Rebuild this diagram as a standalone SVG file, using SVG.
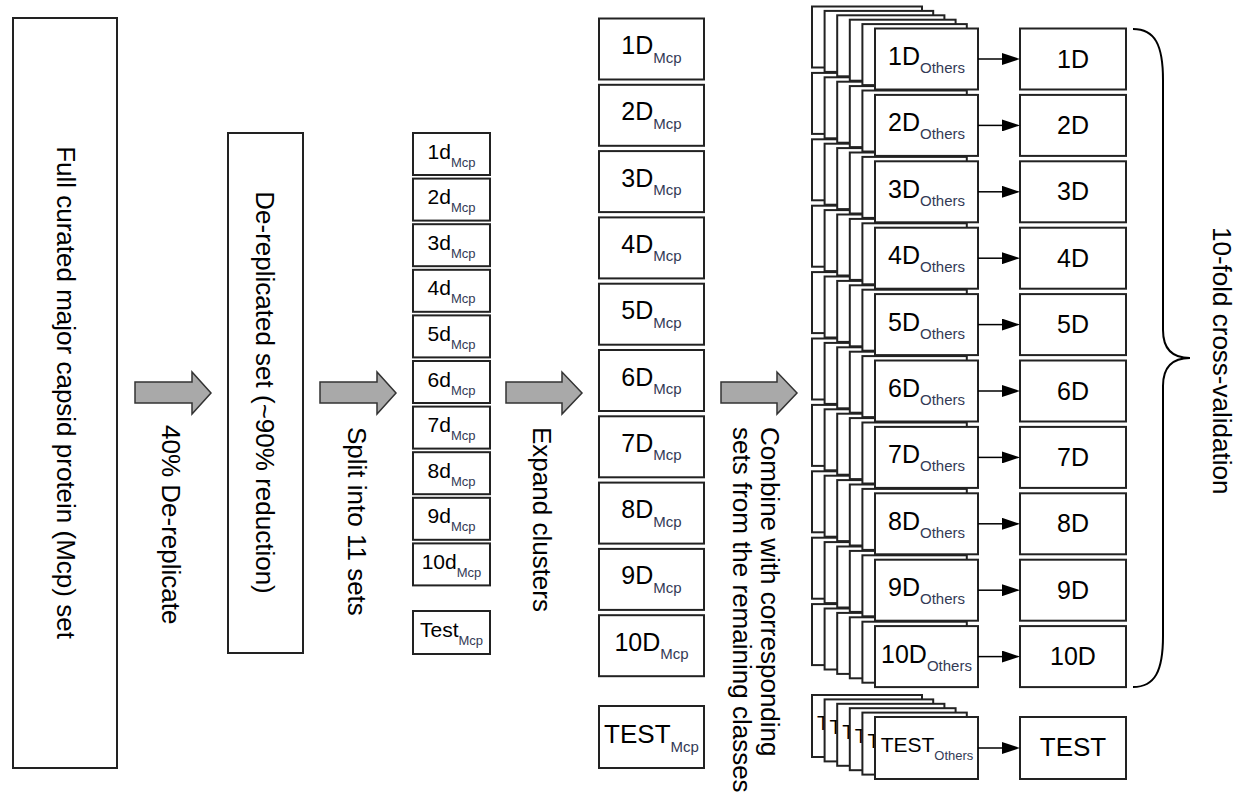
<svg xmlns="http://www.w3.org/2000/svg" width="1244" height="798" viewBox="0 0 1244 798">
<style>
.box{fill:#fff;stroke:#222;stroke-width:2}
.t{font-family:"Liberation Sans",Arial,sans-serif;fill:#000}
.sub{fill:#333a55}
.blk{fill:#a9a9a9;stroke:#333;stroke-width:1.5}
.ln{stroke:#000;stroke-width:1.5;fill:none}
</style>
<defs>
<marker id="ah" markerWidth="18" markerHeight="12" refX="0" refY="6" orient="auto" markerUnits="userSpaceOnUse"><path d="M0,0 L18,6 L0,12 z" fill="#000"/></marker>
</defs>
<rect width="1244" height="798" fill="#fff"/>

<g id="full-set">
<rect class="box" x="13" y="18" width="104" height="750"/>
<text class="t" font-size="26" text-anchor="middle" transform="translate(57,392.5) rotate(90)">Full curated major capsid protein (Mcp) set</text>
</g>

<g id="derep-set">
<rect class="box" x="228" y="133" width="75" height="520"/>
<text class="t" font-size="26" text-anchor="middle" transform="translate(256,392.5) rotate(90)">De-replicated set (~90% reduction)</text>
</g>

<g id="small-sets">
<g id="d1"><rect class="box" x="413" y="133" width="77" height="42"/><text class="t" x="451.5" y="158.5" font-size="21" text-anchor="middle">1d<tspan class="sub" font-size="13" dy="8">Mcp</tspan></text></g>
<g id="d2"><rect class="box" x="413" y="178.6" width="77" height="42"/><text class="t" x="451.5" y="204.1" font-size="21" text-anchor="middle">2d<tspan class="sub" font-size="13" dy="8">Mcp</tspan></text></g>
<g id="d3"><rect class="box" x="413" y="224.2" width="77" height="42"/><text class="t" x="451.5" y="249.7" font-size="21" text-anchor="middle">3d<tspan class="sub" font-size="13" dy="8">Mcp</tspan></text></g>
<g id="d4"><rect class="box" x="413" y="269.8" width="77" height="42"/><text class="t" x="451.5" y="295.3" font-size="21" text-anchor="middle">4d<tspan class="sub" font-size="13" dy="8">Mcp</tspan></text></g>
<g id="d5"><rect class="box" x="413" y="315.4" width="77" height="42"/><text class="t" x="451.5" y="340.9" font-size="21" text-anchor="middle">5d<tspan class="sub" font-size="13" dy="8">Mcp</tspan></text></g>
<g id="d6"><rect class="box" x="413" y="361" width="77" height="42"/><text class="t" x="451.5" y="386.5" font-size="21" text-anchor="middle">6d<tspan class="sub" font-size="13" dy="8">Mcp</tspan></text></g>
<g id="d7"><rect class="box" x="413" y="406.6" width="77" height="42"/><text class="t" x="451.5" y="432.1" font-size="21" text-anchor="middle">7d<tspan class="sub" font-size="13" dy="8">Mcp</tspan></text></g>
<g id="d8"><rect class="box" x="413" y="452.2" width="77" height="42"/><text class="t" x="451.5" y="477.7" font-size="21" text-anchor="middle">8d<tspan class="sub" font-size="13" dy="8">Mcp</tspan></text></g>
<g id="d9"><rect class="box" x="413" y="497.8" width="77" height="42"/><text class="t" x="451.5" y="523.3" font-size="21" text-anchor="middle">9d<tspan class="sub" font-size="13" dy="8">Mcp</tspan></text></g>
<g id="d10"><rect class="box" x="413" y="543.4" width="77" height="42"/><text class="t" x="451.5" y="568.9" font-size="21" text-anchor="middle">10d<tspan class="sub" font-size="13" dy="8">Mcp</tspan></text></g>
<g id="dtest"><rect class="box" x="413" y="611" width="77" height="43"/><text class="t" x="451.5" y="636.7" font-size="21" text-anchor="middle">Test<tspan class="sub" font-size="13" dy="8">Mcp</tspan></text></g>
</g>

<g id="expanded-sets">
<g id="D1"><rect class="box" x="599" y="18.5" width="105" height="61"/><text class="t" x="651.5" y="54" font-size="25" text-anchor="middle">1D<tspan class="sub" font-size="15" dy="8.5">Mcp</tspan></text></g>
<g id="D2"><rect class="box" x="599" y="84.8" width="105" height="61"/><text class="t" x="651.5" y="120.3" font-size="25" text-anchor="middle">2D<tspan class="sub" font-size="15" dy="8.5">Mcp</tspan></text></g>
<g id="D3"><rect class="box" x="599" y="151.1" width="105" height="61"/><text class="t" x="651.5" y="186.6" font-size="25" text-anchor="middle">3D<tspan class="sub" font-size="15" dy="8.5">Mcp</tspan></text></g>
<g id="D4"><rect class="box" x="599" y="217.4" width="105" height="61"/><text class="t" x="651.5" y="252.9" font-size="25" text-anchor="middle">4D<tspan class="sub" font-size="15" dy="8.5">Mcp</tspan></text></g>
<g id="D5"><rect class="box" x="599" y="283.7" width="105" height="61"/><text class="t" x="651.5" y="319.2" font-size="25" text-anchor="middle">5D<tspan class="sub" font-size="15" dy="8.5">Mcp</tspan></text></g>
<g id="D6"><rect class="box" x="599" y="350" width="105" height="61"/><text class="t" x="651.5" y="385.5" font-size="25" text-anchor="middle">6D<tspan class="sub" font-size="15" dy="8.5">Mcp</tspan></text></g>
<g id="D7"><rect class="box" x="599" y="416.3" width="105" height="61"/><text class="t" x="651.5" y="451.8" font-size="25" text-anchor="middle">7D<tspan class="sub" font-size="15" dy="8.5">Mcp</tspan></text></g>
<g id="D8"><rect class="box" x="599" y="482.6" width="105" height="61"/><text class="t" x="651.5" y="518.1" font-size="25" text-anchor="middle">8D<tspan class="sub" font-size="15" dy="8.5">Mcp</tspan></text></g>
<g id="D9"><rect class="box" x="599" y="548.9" width="105" height="61"/><text class="t" x="651.5" y="584.4" font-size="25" text-anchor="middle">9D<tspan class="sub" font-size="15" dy="8.5">Mcp</tspan></text></g>
<g id="D10"><rect class="box" x="599" y="615.2" width="105" height="61"/><text class="t" x="651.5" y="650.7" font-size="25" text-anchor="middle">10D<tspan class="sub" font-size="15" dy="8.5">Mcp</tspan></text></g>
<g id="DTEST"><rect class="box" x="599" y="706" width="105" height="62"/><text class="t" x="651.5" y="743" font-size="26" text-anchor="middle">TEST<tspan class="sub" font-size="15" dy="9">Mcp</tspan></text></g>
</g>

<g id="combined-stacks">
<g id="stackTEST">
<rect class="box" x="812" y="695" width="110" height="62"/><text class="t" x="817" y="730" font-size="20">T</text>
<rect class="box" x="824.6" y="699.4" width="108.6" height="62"/><text class="t" x="829.6" y="734.4" font-size="20">T</text>
<rect class="box" x="837.2" y="703.8" width="107.2" height="62"/><text class="t" x="842.2" y="738.8" font-size="20">T</text>
<rect class="box" x="849.8" y="708.2" width="105.8" height="62"/><text class="t" x="854.8" y="743.2" font-size="20">T</text>
<rect class="box" x="862.4" y="712.6" width="104.4" height="62"/><text class="t" x="867.4" y="747.6" font-size="20">T</text>
<rect class="box" x="875" y="717" width="103" height="62"/><text class="t" x="927" y="752" font-size="21" text-anchor="middle">TEST<tspan class="sub" font-size="13" dy="7.5">Others</tspan></text>
</g>
<g id="stack10">
<rect class="box" x="812" y="604.1" width="110" height="61"/><rect class="box" x="824.6" y="608.5" width="108.6" height="61"/><rect class="box" x="837.2" y="612.9" width="107.2" height="61"/><rect class="box" x="849.8" y="617.3" width="105.8" height="61"/><rect class="box" x="862.4" y="621.7" width="104.4" height="61"/>
<rect class="box" x="875" y="626.1" width="103" height="61"/><text class="t" x="926.5" y="662.6" font-size="25" text-anchor="middle">10D<tspan class="sub" font-size="15" dy="8">Others</tspan></text>
</g>
<g id="stack9">
<rect class="box" x="812" y="537.7" width="110" height="61"/><rect class="box" x="824.6" y="542.1" width="108.6" height="61"/><rect class="box" x="837.2" y="546.5" width="107.2" height="61"/><rect class="box" x="849.8" y="550.9" width="105.8" height="61"/><rect class="box" x="862.4" y="555.3" width="104.4" height="61"/>
<rect class="box" x="875" y="559.7" width="103" height="61"/><text class="t" x="926.5" y="596.2" font-size="25" text-anchor="middle">9D<tspan class="sub" font-size="15" dy="8">Others</tspan></text>
</g>
<g id="stack8">
<rect class="box" x="812" y="471.3" width="110" height="61"/><rect class="box" x="824.6" y="475.7" width="108.6" height="61"/><rect class="box" x="837.2" y="480.1" width="107.2" height="61"/><rect class="box" x="849.8" y="484.5" width="105.8" height="61"/><rect class="box" x="862.4" y="488.9" width="104.4" height="61"/>
<rect class="box" x="875" y="493.3" width="103" height="61"/><text class="t" x="926.5" y="529.8" font-size="25" text-anchor="middle">8D<tspan class="sub" font-size="15" dy="8">Others</tspan></text>
</g>
<g id="stack7">
<rect class="box" x="812" y="404.9" width="110" height="61"/><rect class="box" x="824.6" y="409.3" width="108.6" height="61"/><rect class="box" x="837.2" y="413.7" width="107.2" height="61"/><rect class="box" x="849.8" y="418.1" width="105.8" height="61"/><rect class="box" x="862.4" y="422.5" width="104.4" height="61"/>
<rect class="box" x="875" y="426.9" width="103" height="61"/><text class="t" x="926.5" y="463.4" font-size="25" text-anchor="middle">7D<tspan class="sub" font-size="15" dy="8">Others</tspan></text>
</g>
<g id="stack6">
<rect class="box" x="812" y="338.5" width="110" height="61"/><rect class="box" x="824.6" y="342.9" width="108.6" height="61"/><rect class="box" x="837.2" y="347.3" width="107.2" height="61"/><rect class="box" x="849.8" y="351.7" width="105.8" height="61"/><rect class="box" x="862.4" y="356.1" width="104.4" height="61"/>
<rect class="box" x="875" y="360.5" width="103" height="61"/><text class="t" x="926.5" y="397" font-size="25" text-anchor="middle">6D<tspan class="sub" font-size="15" dy="8">Others</tspan></text>
</g>
<g id="stack5">
<rect class="box" x="812" y="272.1" width="110" height="61"/><rect class="box" x="824.6" y="276.5" width="108.6" height="61"/><rect class="box" x="837.2" y="280.9" width="107.2" height="61"/><rect class="box" x="849.8" y="285.3" width="105.8" height="61"/><rect class="box" x="862.4" y="289.7" width="104.4" height="61"/>
<rect class="box" x="875" y="294.1" width="103" height="61"/><text class="t" x="926.5" y="330.6" font-size="25" text-anchor="middle">5D<tspan class="sub" font-size="15" dy="8">Others</tspan></text>
</g>
<g id="stack4">
<rect class="box" x="812" y="205.7" width="110" height="61"/><rect class="box" x="824.6" y="210.1" width="108.6" height="61"/><rect class="box" x="837.2" y="214.5" width="107.2" height="61"/><rect class="box" x="849.8" y="218.9" width="105.8" height="61"/><rect class="box" x="862.4" y="223.3" width="104.4" height="61"/>
<rect class="box" x="875" y="227.7" width="103" height="61"/><text class="t" x="926.5" y="264.2" font-size="25" text-anchor="middle">4D<tspan class="sub" font-size="15" dy="8">Others</tspan></text>
</g>
<g id="stack3">
<rect class="box" x="812" y="139.3" width="110" height="61"/><rect class="box" x="824.6" y="143.7" width="108.6" height="61"/><rect class="box" x="837.2" y="148.1" width="107.2" height="61"/><rect class="box" x="849.8" y="152.5" width="105.8" height="61"/><rect class="box" x="862.4" y="156.9" width="104.4" height="61"/>
<rect class="box" x="875" y="161.3" width="103" height="61"/><text class="t" x="926.5" y="197.8" font-size="25" text-anchor="middle">3D<tspan class="sub" font-size="15" dy="8">Others</tspan></text>
</g>
<g id="stack2">
<rect class="box" x="812" y="72.9" width="110" height="61"/><rect class="box" x="824.6" y="77.3" width="108.6" height="61"/><rect class="box" x="837.2" y="81.7" width="107.2" height="61"/><rect class="box" x="849.8" y="86.1" width="105.8" height="61"/><rect class="box" x="862.4" y="90.5" width="104.4" height="61"/>
<rect class="box" x="875" y="94.9" width="103" height="61"/><text class="t" x="926.5" y="131.4" font-size="25" text-anchor="middle">2D<tspan class="sub" font-size="15" dy="8">Others</tspan></text>
</g>
<g id="stack1">
<rect class="box" x="812" y="6.5" width="110" height="61"/><rect class="box" x="824.6" y="10.9" width="108.6" height="61"/><rect class="box" x="837.2" y="15.3" width="107.2" height="61"/><rect class="box" x="849.8" y="19.7" width="105.8" height="61"/><rect class="box" x="862.4" y="24.1" width="104.4" height="61"/>
<rect class="box" x="875" y="28.5" width="103" height="61"/><text class="t" x="926.5" y="65" font-size="25" text-anchor="middle">1D<tspan class="sub" font-size="15" dy="8">Others</tspan></text>
</g>
</g>

<g id="final-sets">
<g id="F1"><rect class="box" x="1020" y="28.5" width="106" height="61"/><text class="t" x="1073" y="67.5" font-size="25" text-anchor="middle">1D</text></g>
<g id="F2"><rect class="box" x="1020" y="94.9" width="106" height="61"/><text class="t" x="1073" y="133.9" font-size="25" text-anchor="middle">2D</text></g>
<g id="F3"><rect class="box" x="1020" y="161.3" width="106" height="61"/><text class="t" x="1073" y="200.3" font-size="25" text-anchor="middle">3D</text></g>
<g id="F4"><rect class="box" x="1020" y="227.7" width="106" height="61"/><text class="t" x="1073" y="266.7" font-size="25" text-anchor="middle">4D</text></g>
<g id="F5"><rect class="box" x="1020" y="294.1" width="106" height="61"/><text class="t" x="1073" y="333.1" font-size="25" text-anchor="middle">5D</text></g>
<g id="F6"><rect class="box" x="1020" y="360.5" width="106" height="61"/><text class="t" x="1073" y="399.5" font-size="25" text-anchor="middle">6D</text></g>
<g id="F7"><rect class="box" x="1020" y="426.9" width="106" height="61"/><text class="t" x="1073" y="465.9" font-size="25" text-anchor="middle">7D</text></g>
<g id="F8"><rect class="box" x="1020" y="493.3" width="106" height="61"/><text class="t" x="1073" y="532.3" font-size="25" text-anchor="middle">8D</text></g>
<g id="F9"><rect class="box" x="1020" y="559.7" width="106" height="61"/><text class="t" x="1073" y="598.7" font-size="25" text-anchor="middle">9D</text></g>
<g id="F10"><rect class="box" x="1020" y="626.1" width="106" height="61"/><text class="t" x="1073" y="665.1" font-size="25" text-anchor="middle">10D</text></g>
<g id="FTEST"><rect class="box" x="1020" y="717" width="106" height="62"/><text class="t" x="1073" y="756" font-size="26" text-anchor="middle">TEST</text></g>
</g>

<g id="connectors">
<polygon class="blk" points="135,382 192,382 192,372 211,393 192,414 192,403 135,403"/>
<polygon class="blk" points="320,382 377,382 377,372 396,393 377,414 377,403 320,403"/>
<polygon class="blk" points="506,382 562,382 562,372 582,393 562,414 562,403 506,403"/>
<polygon class="blk" points="721,382 777,382 777,372 797,393 777,414 777,403 721,403"/>
<path class="ln" marker-end="url(#ah)" d="M978,59 H1002"/>
<path class="ln" marker-end="url(#ah)" d="M978,125.4 H1002"/>
<path class="ln" marker-end="url(#ah)" d="M978,191.8 H1002"/>
<path class="ln" marker-end="url(#ah)" d="M978,258.2 H1002"/>
<path class="ln" marker-end="url(#ah)" d="M978,324.6 H1002"/>
<path class="ln" marker-end="url(#ah)" d="M978,391 H1002"/>
<path class="ln" marker-end="url(#ah)" d="M978,457.4 H1002"/>
<path class="ln" marker-end="url(#ah)" d="M978,523.8 H1002"/>
<path class="ln" marker-end="url(#ah)" d="M978,590.2 H1002"/>
<path class="ln" marker-end="url(#ah)" d="M978,656.6 H1002"/>
<path class="ln" marker-end="url(#ah)" d="M978,748 H1002"/>
</g>

<g id="step-labels">
<text class="t" font-size="26" transform="translate(162,425) rotate(90)">40% De-replicate</text>
<text class="t" font-size="26" transform="translate(348,427) rotate(90)">Split into 11 sets</text>
<text class="t" font-size="26" transform="translate(533,427) rotate(90)">Expand clusters</text>
<text class="t" font-size="26" transform="translate(761,427) rotate(90)">Combine with corresponding</text>
<text class="t" font-size="26" transform="translate(733,427) rotate(90)">sets from the remaining classes</text>
</g>

<g id="cross-validation">
<path d="M1133,29 C1155,29 1163,45 1163,80 L1163,330 C1163,348 1172,358 1190,358 C1172,358 1163,368 1163,386 L1163,636 C1163,671 1155,687 1133,687" fill="none" stroke="#000" stroke-width="2"/>
<text class="t" font-size="26" transform="translate(1213,227) rotate(90)">10-fold cross-validation</text>
</g>
</svg>
